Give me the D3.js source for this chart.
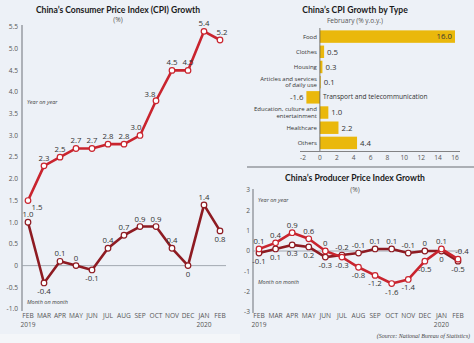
<!DOCTYPE html>
<html>
<head>
<meta charset="utf-8">
<script src="https://cdn.jsdelivr.net/npm/d3@7"></script>
<style>
  html, body { margin: 0; padding: 0; background: #f4f6f9; }
  svg { display: block; font-family: "Open Sans", sans-serif; }
  .title { font-family: Lato, sans-serif; font-weight: 700; fill: #1a1a1a; }
  .tick-label { fill: #555; font-size: 6.6px; }
  .value-label { fill: #333; font-size: 7.8px; }
  .note { fill: #444; font-size: 5.5px; font-style: italic; }
</style>
</head>
<body>
<svg id="chart"></svg>
<script>
// CPI growth, Feb 2019 - Feb 2020
const months = ['FEB', 'MAR', 'APR', 'MAY', 'JUN', 'JUL', 'AUG', 'SEP', 'OCT', 'NOV', 'DEC', 'JAN', 'FEB'];
const years = ['2019', '', '', '', '', '', '', '', '', '', '', '2020', ''];
const cpiYoY = [1.5, 2.3, 2.5, 2.7, 2.7, 2.8, 2.8, 3.0, 3.8, 4.5, 4.5, 5.4, 5.2];
const cpiMoM = [1.0, -0.4, 0.1, 0, -0.1, 0.4, 0.7, 0.9, 0.9, 0.4, 0, 1.4, 0.8];
const cpiTicks = [-1.0, -0.5, 0, 0.5, 1.0, 1.5, 2.0, 2.5, 3.0, 3.5, 4.0, 4.5, 5.0, 5.5];

// CPI by type, February
const categories = ['Food', 'Clothes', 'Housing', 'Articles and services|of daily use',
  'Transport and telecommunication', 'Education, culture and|entertainment', 'Healthcare', 'Others'];
const typeValues = [16.0, 0.5, 0.3, 0.1, -1.6, 1.0, 2.2, 4.4];
const typeTicks = [-2, 0, 2, 4, 6, 8, 10, 12, 14, 16];

// PPI growth
const ppiYoY = [0.1, 0.4, 0.9, 0.6, 0, -0.3, -0.8, -1.2, -1.6, -1.4, -0.5, 0.1, -0.4];
const ppiMoM = [-0.1, 0.1, 0.3, 0.2, -0.3, -0.2, -0.1, 0.1, 0.1, -0.1, 0, 0, -0.5];
const ppiTicks = [-3, -2, -1, 0, 1, 2, 3];

const width = 474;
const height = 343;
const yoyColor = '#c9242e';
const momColor = '#8e1b22';
const barColor = '#eab80c';

const svg = d3.select('#chart').attr('width', width).attr('height', height);

svg.append('rect').attr('width', width).attr('height', height).attr('fill', '#edf1f7');
svg.append('rect').attr('x', 0).attr('y', 334).attr('width', 240).attr('height', 9).attr('fill', '#f4f6f9');

function fmt(v) {
    return v === 0 ? '0' : v.toFixed(1);
}

// draws a line series with hollow markers and value labels
function drawSeries(g, data, x, y, color, place) {
    const line = d3.line().x((d, i) => x(i)).y(d => y(d));
    g.append('path')
        .datum(data)
        .attr('fill', 'none')
        .attr('stroke', color)
        .attr('stroke-width', 2.6)
        .attr('stroke-linejoin', 'round')
        .attr('d', line);

    g.selectAll(null)
        .data(data)
        .join('circle')
        .attr('cx', (d, i) => x(i))
        .attr('cy', d => y(d))
        .attr('r', 2.8)
        .attr('fill', '#fff')
        .attr('stroke', color)
        .attr('stroke-width', 1.2);

    g.selectAll(null)
        .data(data)
        .join('text')
        .attr('class', 'value-label')
        .attr('text-anchor', 'middle')
        .attr('x', (d, i) => x(i) + place(i)[0])
        .attr('y', (d, i) => y(d) + place(i)[1])
        .text(d => fmt(d));
}

function drawMonthAxis(g, x, yPos) {
    g.selectAll(null)
        .data(months)
        .join('text')
        .attr('class', 'tick-label')
        .attr('text-anchor', 'middle')
        .attr('x', (d, i) => x(i))
        .attr('y', yPos)
        .text(d => d);
    g.selectAll(null)
        .data(years)
        .join('text')
        .attr('class', 'tick-label')
        .attr('text-anchor', 'middle')
        .attr('x', (d, i) => x(i))
        .attr('y', yPos + 8.5)
        .text(d => d);
}

const above = [0, -5];
const below = [0, 11];

// ---- left: CPI ----
{
    const g = svg.append('g');
    const x = d3.scaleLinear().domain([0, 12]).range([28, 220]);
    const y = d3.scaleLinear().domain([-1, 5.5]).range([309, 27]);

    g.append('text').attr('class', 'title').attr('font-size', '8.6px')
        .attr('x', 118).attr('y', 13).attr('text-anchor', 'middle')
        .text('China\u2019s Consumer Price Index (CPI) Growth');
    g.append('text').attr('class', 'tick-label').attr('x', 118).attr('y', 22)
        .attr('text-anchor', 'middle').text('(%)');

    g.append('line').attr('x1', 22).attr('x2', 22).attr('y1', 25).attr('y2', y(-1) + 2)
        .attr('stroke', '#8a8f96').attr('stroke-width', 1.3);
    g.append('line').attr('x1', 22).attr('x2', 226).attr('y1', y(0)).attr('y2', y(0))
        .attr('stroke', '#9aa0a8').attr('stroke-width', 0.9);

    g.selectAll(null).data(cpiTicks).join('text')
        .attr('class', 'tick-label')
        .attr('text-anchor', 'end')
        .attr('x', 18).attr('y', d => y(d) + 2.3)
        .text(d => d === 0 ? '0' : d.toFixed(1));

    g.append('text').attr('class', 'note').attr('x', 27).attr('y', 104).text('Year on year');
    g.append('text').attr('class', 'note').attr('x', 27).attr('y', 304).text('Month on month');

    // label offsets: first point sits below-right, the steep climb gets nudged left
    const yoyPlace = i => {
        if (i === 0) return [9, 9];
        if (i === 7) return [-4, -5];
        if (i === 8) return [-6, -4];
        if (i === 12) return [2, -5];
        return above;
    };
    const momBelow = [1, 4, 10, 12];
    drawSeries(g, cpiMoM, x, y, momColor, i => momBelow.includes(i) ? below : above);
    drawSeries(g, cpiYoY, x, y, yoyColor, yoyPlace);

    drawMonthAxis(g, x, 318);
}

// ---- top right: CPI by type ----
{
    const g = svg.append('g');
    const x = d3.scaleLinear().domain([-2, 16]).range([303, 455]);
    const y = d3.scaleBand().domain(categories).range([29, 150.5]).paddingInner(0.18).paddingOuter(0.09);

    g.append('text').attr('class', 'title').attr('font-size', '8.6px')
        .attr('x', 355).attr('y', 13).attr('text-anchor', 'middle')
        .text('China\u2019s CPI Growth by Type');
    g.append('text').attr('class', 'tick-label').attr('font-size', '6.8px')
        .attr('x', 355).attr('y', 23).attr('text-anchor', 'middle')
        .text('February (% y.o.y.)');

    g.selectAll(null).data(categories).join('rect')
        .attr('x', (d, i) => x(Math.min(0, typeValues[i])))
        .attr('y', d => y(d))
        .attr('width', (d, i) => Math.abs(x(typeValues[i]) - x(0)))
        .attr('height', y.bandwidth())
        .attr('fill', barColor);

    g.append('line').attr('x1', x(0)).attr('x2', x(0)).attr('y1', 28).attr('y2', 151)
        .attr('stroke', '#555').attr('stroke-width', 0.8);
    g.append('line').attr('x1', 300).attr('x2', 460).attr('y1', 151.5).attr('y2', 151.5)
        .attr('stroke', '#666').attr('stroke-width', 0.8);

    g.selectAll(null).data(typeTicks).join('text')
        .attr('class', 'tick-label')
        .attr('text-anchor', 'middle')
        .attr('x', d => x(d)).attr('y', 160)
        .text(d => d);

    // category names, split on '|'
    categories.forEach((c, i) => {
        const v = typeValues[i];
        const cy = y(c) + y.bandwidth() / 2;
        const lines = c.split('|');
        const t = g.append('text')
            .attr('font-size', '6px').attr('fill', '#333')
            .attr('text-anchor', v < 0 ? 'start' : 'end')
            .attr('x', v < 0 ? x(0) + 3 : x(0) - 3);
        lines.forEach((l, k) => {
            t.append('tspan')
                .attr('x', v < 0 ? x(0) + 3 : x(0) - 3)
                .attr('y', cy + 2 + (k - (lines.length - 1) / 2) * 6.5)
                .text(l);
        });
        if (v < 0) t.attr('font-size', '6.6px');

        const inside = x(v) > 430;
        g.append('text')
            .attr('class', 'value-label')
            .attr('text-anchor', inside || v < 0 ? 'end' : 'start')
            .attr('x', inside ? x(v) - 3 : (v < 0 ? x(v) - 3 : x(v) + 3))
            .attr('y', cy + 2.8)
            .text(v.toFixed(1));
    });
}

// divider between the two right-hand charts
svg.append('line').attr('x1', 247).attr('x2', 474).attr('y1', 167).attr('y2', 167)
    .attr('stroke', '#6b6f75').attr('stroke-width', 1.2);

// ---- bottom right: PPI ----
{
    const g = svg.append('g');
    const x = d3.scaleLinear().domain([0, 12]).range([259, 458]);
    const y = d3.scaleLinear().domain([-3, 3]).range([312, 190]);

    g.append('text').attr('class', 'title').attr('font-size', '8.6px')
        .attr('x', 355).attr('y', 181).attr('text-anchor', 'middle')
        .text('China\u2019s Producer Price Index Growth');
    g.append('text').attr('class', 'tick-label').attr('x', 355).attr('y', 192)
        .attr('text-anchor', 'middle').text('(%)');

    g.append('line').attr('x1', 253).attr('x2', 253).attr('y1', 189).attr('y2', 313)
        .attr('stroke', '#8a8f96').attr('stroke-width', 1.3);
    g.append('line').attr('x1', 253).attr('x2', 462).attr('y1', y(0)).attr('y2', y(0))
        .attr('stroke', '#9aa0a8').attr('stroke-width', 0.9);

    g.selectAll(null).data(ppiTicks).join('text')
        .attr('class', 'tick-label')
        .attr('text-anchor', 'end')
        .attr('x', 250).attr('y', d => y(d) + 2.3)
        .text(d => d);

    g.append('text').attr('class', 'note').attr('x', 258).attr('y', 202).text('Year on year');
    g.append('text').attr('class', 'note').attr('x', 258).attr('y', 284).text('Month on month');

    // whichever series is higher in a month gets its label on top
    const yoyPlace = i => {
        const p = ppiYoY[i] >= ppiMoM[i] ? above : below;
        return i === 12 ? [4, p[1]] : p;
    };
    const momPlace = i => (ppiMoM[i] > ppiYoY[i] ? above : below);
    drawSeries(g, ppiMoM, x, y, momColor, momPlace);
    drawSeries(g, ppiYoY, x, y, yoyColor, yoyPlace);

    drawMonthAxis(g, x, 318);

    g.append('text')
        .attr('x', 470).attr('y', 338)
        .attr('text-anchor', 'end')
        .attr('font-family', '"Liberation Serif", serif')
        .attr('font-style', 'italic')
        .attr('font-size', '6px')
        .attr('fill', '#444')
        .text('(Source: National Bureau of Statistics)');
}
</script>
</body>
</html>
